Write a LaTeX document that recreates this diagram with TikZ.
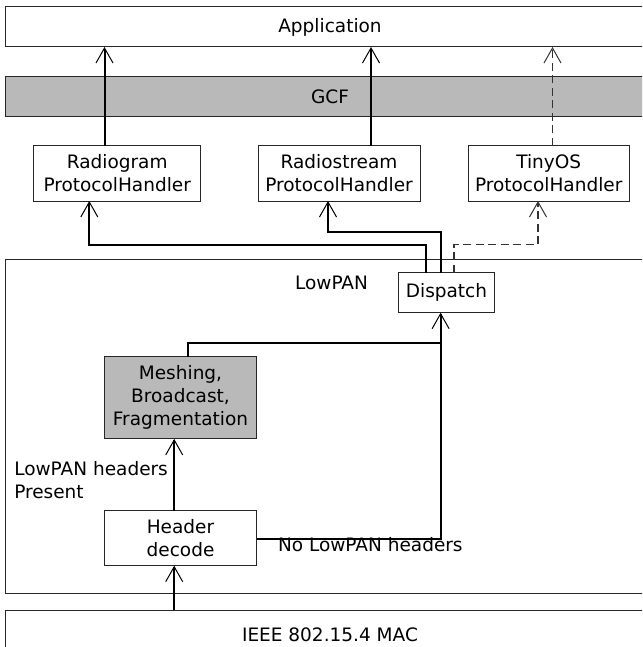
\documentclass[tikz,border=0pt]{standalone}
\usepackage{fontspec}
\setmainfont{DejaVu Sans}
\usetikzlibrary{arrows.meta}
\definecolor{boxgray}{RGB}{185,185,185}
\begin{document}
\begin{tikzpicture}[x=1pt,y=-1pt,
  every node/.style={font=\fontsize{18.5pt}{23pt}\selectfont, inner sep=0pt, outer sep=0pt},
  box/.style={draw=black!85, line width=1pt, align=center},
  conn/.style={line width=2pt},
  dconn/.style={line width=1.5pt, draw=black!80, dash pattern=on 8pt off 4.5pt},
  tip/.style={-{Straight Barb[length=15pt,width=17pt,line width=1pt]}}]
\useasboundingbox (0,0) rectangle (642,647);
\clip (0,0) rectangle (642,647);
% layers
\node[box, minimum width=650pt, minimum height=40pt] (app) at (330,27) {Application};
\node[box, fill=boxgray, minimum width=650pt, minimum height=40.5pt] (gcf) at (330,96.5) {GCF};
\node[box, minimum width=167.2pt, minimum height=55pt] (rg) at (117.2,173.5) {Radiogram\\ProtocolHandler};
\node[box, minimum width=162pt, minimum height=55pt] (rs) at (339,173.5) {Radiostream\\ProtocolHandler};
\node[box, minimum width=160.6pt, minimum height=55pt] (ty) at (548.7,173.5) {TinyOS\\ProtocolHandler};
\node[box, minimum width=650pt, minimum height=334pt] (low) at (330,426.3) {};
\node[anchor=base] (lowlbl) at (331.5,289) {LowPAN};
\node[box, fill=white, minimum width=96.3pt, minimum height=40pt] (dis) at (446.5,292.7) {Dispatch};
\node[box, fill=boxgray, minimum width=152pt, minimum height=82.3pt] (mesh) at (180.5,397.8) {Meshing,\\Broadcast,\\Fragmentation};
\node[box, minimum width=152pt, minimum height=55pt] (hd) at (180.5,538.2) {Header\\decode};
\node[box, minimum width=650pt, minimum height=50pt] (mac) at (330,635) {IEEE 802.15.4 MAC};
\node[anchor=north west, align=left] (lp) at (14.3,461.5) {LowPAN headers\\Present};
\node[anchor=base west] (nl) at (278,551) {No LowPAN headers};
% handlers up to application
\coordinate (rgT) at ([xshift=-12.7pt]rg.north);
\coordinate (rsT) at ([xshift=32pt]rs.north);
\coordinate (tyT) at ([xshift=3.8pt]ty.north);
\draw[conn,tip] (rgT) -- (rgT |- app.south);
\draw[conn,tip] (rsT) -- (rsT |- app.south);
\draw[dconn,tip] (tyT) -- (tyT |- app.south);
% dispatch to handlers
\coordinate (d1) at ([xshift=-20.5pt]dis.north);
\coordinate (d2) at ([xshift=-5.9pt]dis.north);
\coordinate (d3) at ([xshift=7.5pt]dis.north);
\coordinate (rgB) at ([xshift=-27.9pt]rg.south);
\coordinate (rsB) at ([xshift=-11pt]rs.south);
\coordinate (tyB) at ([xshift=-10.7pt]ty.south);
\draw[conn,tip] (d1) -- ++(0,-27.7) -| (rgB);
\draw[conn,tip] (d2) -- ++(0,-41) -| (rsB);
\draw[dconn,tip] (d3) -- ++(0,-28.4) -| (tyB);
% lower part
\coordinate (dB) at ([xshift=-5.9pt]dis.south);
\coordinate (jn) at ([yshift=-30pt]dB);
\coordinate (mT) at ([xshift=7.2pt]mesh.north);
\coordinate (hT) at ([xshift=-6.3pt]hd.north);
\coordinate (hB) at ([xshift=-6.3pt]hd.south);
\draw[conn,tip] ([yshift=-1pt]hd.east) -| (dB);
\draw[conn] (mT) |- (jn);
\draw[conn,tip] (hT) -- (hT |- mesh.south);
\draw[conn,tip] (hB |- mac.north) -- (hB);
\end{tikzpicture}
\end{document}
